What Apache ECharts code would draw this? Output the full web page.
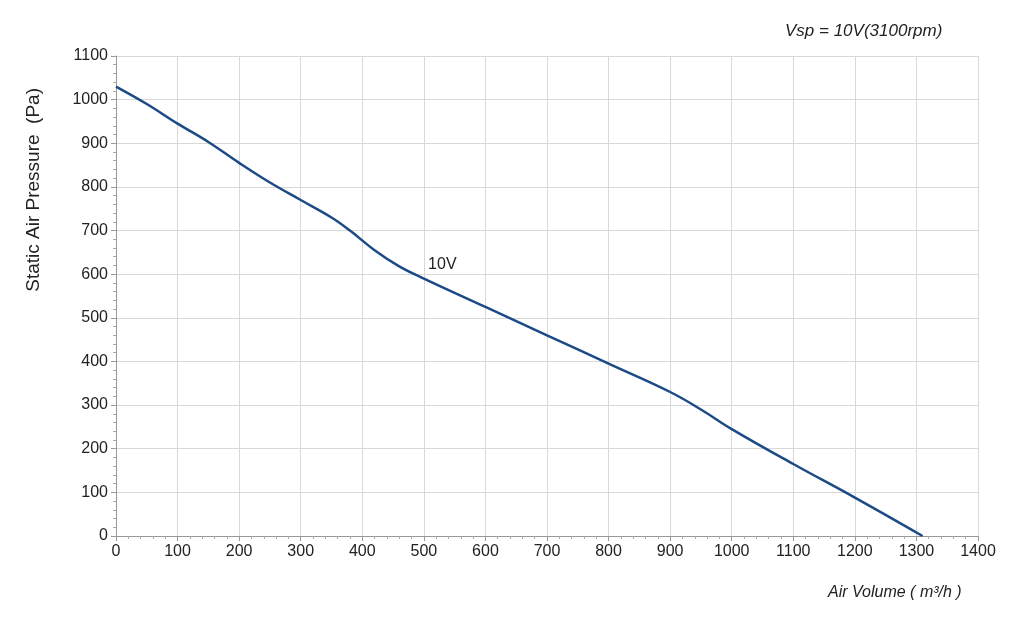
<!DOCTYPE html>
<html><head><meta charset="utf-8">
<script src="https://cdn.jsdelivr.net/npm/echarts@6/dist/echarts.min.js"></script>
<style>html,body{margin:0;background:#fff}#c{width:1024px;height:630px}</style>
</head><body><div id="c"></div>
<script>
const airVolume = [0,50,100,150,200,250,300,350,380,420,460,500,600,700,800,900,950,1000,1100,1200,1310];
const pressure  = [1030,990,945,903,855,810,770,730,700,655,618,590,525,460,395,330,290,245,165,88,0];
const seriesLabel = '10V';
const titleText = 'Vsp = 10V(3100rpm)';
const chart = echarts.init(document.getElementById('c'));
const fmt = v => String(v);
chart.setOption({
  animation:false,
  grid:{left:116,right:46,top:56,bottom:94},
  graphic:[
    {type:'text',left:785,top:23,style:{text:titleText,font:'italic 17px Arial, Liberation Sans',fill:'#222'}},
    {type:'text',left:828,top:585,style:{text:'Air Volume ( m³/h )',font:'italic 16px Arial, Liberation Sans',fill:'#222'}},
    {type:'text',left:24,top:88,rotation:Math.PI/2,style:{text:'Static Air Pressure  (Pa)',font:'19px Arial, Liberation Sans',fill:'#222'}}
  ],
  xAxis:{type:'value',min:0,max:1400,interval:100,
    axisLine:{lineStyle:{color:'#999'}},axisTick:{show:true,length:5,lineStyle:{color:'#999'}},
    minorTick:{show:true,splitNumber:5,length:3,lineStyle:{color:'#aaa'}},
    splitLine:{lineStyle:{color:'#d8d8d8'}},
    axisLabel:{formatter:fmt,color:'#222',fontSize:16,fontFamily:'Arial, Liberation Sans',margin:8}},
  yAxis:{type:'value',min:0,max:1100,interval:100,
    axisLine:{show:true,lineStyle:{color:'#999'}},axisTick:{show:true,length:5,lineStyle:{color:'#999'}},
    minorTick:{show:true,splitNumber:5,length:3,lineStyle:{color:'#aaa'}},
    splitLine:{lineStyle:{color:'#d8d8d8'}},
    axisLabel:{formatter:fmt,color:'#222',fontSize:16,fontFamily:'Arial, Liberation Sans',margin:8}},
  series:[{type:'line',smooth:0.4,symbol:'none',
    data:airVolume.map((x,i)=>[x,pressure[i]]),
    lineStyle:{color:'#1b4a86',width:2.5},
    markPoint:{symbol:'circle',symbolSize:0,
      data:[{coord:[530,622],label:{show:true,formatter:seriesLabel,color:'#222',fontSize:16,fontFamily:'Arial, Liberation Sans'}}]}
  }]
});
</script></body></html>
